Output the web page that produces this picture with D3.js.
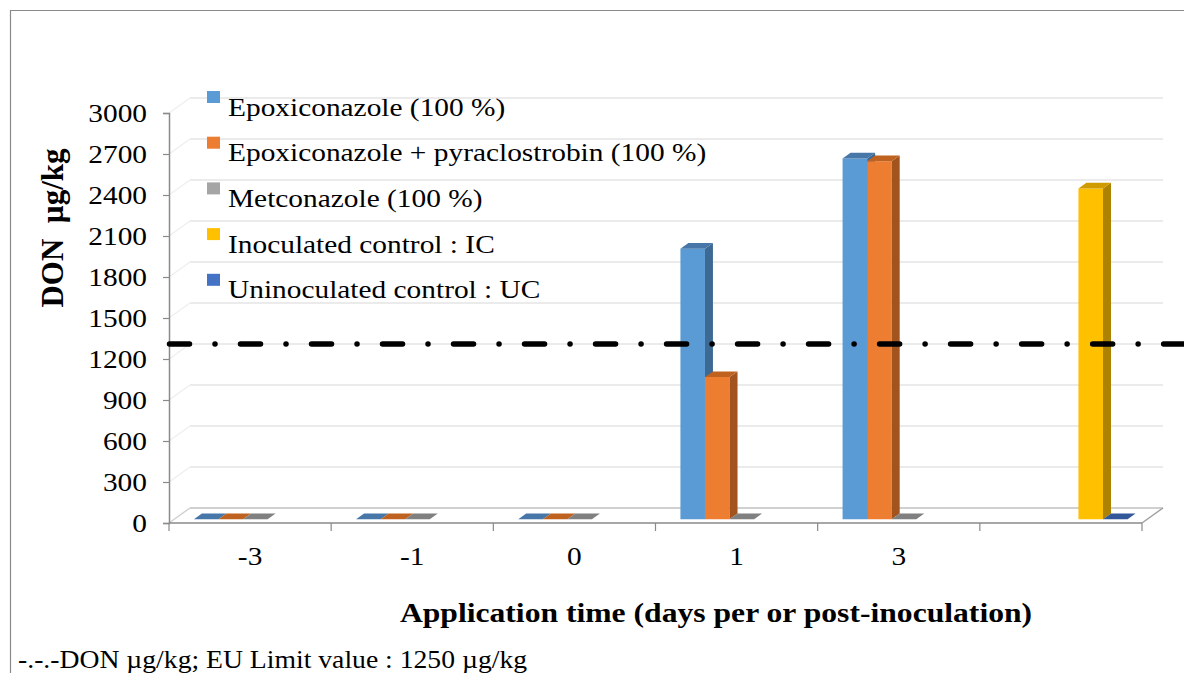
<!DOCTYPE html>
<html><head><meta charset="utf-8">
<script src="https://cdn.jsdelivr.net/npm/d3@7"></script>
<style>
body{margin:0;background:#fff}
text{font-family:"Liberation Serif","Times New Roman",serif;fill:#000}
</style>
</head><body>
<svg id="c" width="1184" height="673"></svg>
<script>
// ---------- data ----------
const categories = ["-3", "-1", "0", "1", "3", ""];
const seriesNames = ["Epoxiconazole (100 %)", "Epoxiconazole + pyraclostrobin (100 %)", "Metconazole (100 %)", "Inoculated control : IC", "Uninoculated control : UC"];
const epoxiconazole = [0, 0, 0, 1980, 2640, null];
const epoxiPyraclostrobin = [0, 0, 0, 1040, 2620, null];
const metconazole = [0, 0, 0, 0, 0, null];
const inoculatedControl = [null, null, null, null, null, 2420];
const uninoculatedControl = [null, null, null, null, null, 0];
const yTicks = [0, 300, 600, 900, 1200, 1500, 1800, 2100, 2400, 2700, 3000];
const limitLevel = 1200; // level at which the EU-limit dash-dot line is drawn in the picture
const yTitle = "DON\u00a0\u00a0µg/kg";
const xTitle = "Application time (days per or post-inoculation)";
const footnote = "-.-.-DON µg/kg; EU Limit value : 1250 µg/kg";

const seriesValues = [epoxiconazole, epoxiPyraclostrobin, metconazole, inoculatedControl, uninoculatedControl];
const faceColors = [
  {front: "#5b9bd5", side: "#3d6a94", top: "#4677a8"},
  {front: "#ed7d31", side: "#a3531d", top: "#bf611f"},
  {front: "#a5a5a5", side: "#6f6f6f", top: "#808080"},
  {front: "#ffc000", side: "#ad8200", top: "#cf9b00"},
  {front: "#4472c4", side: "#2c4f8c", top: "#33589a"}
];

// ---------- layout ----------
const svg = d3.select("#c");
const SX = 1.13;          // horizontal stretch of text in the picture
const FS = 26;
const X0 = 169, X1 = 1142, YB = 523, YT = 113;
const DX = 21, DY = -15;  // depth of the 3D box
const ZF = 0.25, ZB = 0.63; // bar front/back depth fraction

const x = d3.scaleBand().domain(categories).range([X0, X1]);
const xs = d3.scaleBand().domain(d3.range(seriesNames.length)).range([0, x.bandwidth()]).paddingOuter(0.8);
const y = d3.scaleLinear().domain([0, 3000]).range([YB, YT]);
const P = (px, py, z) => [px + z * DX, py + z * DY];

// frame
svg.append("path").attr("d", "M10.5,673 V10.5 H1184").attr("fill", "none").attr("stroke", "#8a8a8a").attr("stroke-width", 1.2);

// back wall gridlines & side wall diagonals
const grid = svg.append("g");
yTicks.forEach(v => {
  const yy = y(v);
  grid.append("line").attr("x1", X0 + DX).attr("x2", X1 + DX).attr("y1", yy + DY).attr("y2", yy + DY)
    .attr("stroke", v === 0 ? "#d0d0d0" : "#ebebeb").attr("stroke-width", 2);
  grid.append("line").attr("x1", X0).attr("y1", yy).attr("x2", X0 + DX).attr("y2", yy + DY)
    .attr("stroke", v === 0 ? "#d0d0d0" : "#efefef").attr("stroke-width", 1.5);
});
// floor right edge
grid.append("line").attr("x1", X1).attr("y1", YB).attr("x2", X1 + DX).attr("y2", YB + DY).attr("stroke", "#a0a0a0").attr("stroke-width", 1.5);

// y axis
const yAxis = svg.append("g").attr("transform", `translate(${X0},0)`)
  .call(d3.axisLeft(y).tickValues(yTicks).tickSize(6).tickFormat(d3.format("d")));
yAxis.select(".domain").attr("stroke", "#8a8a8a").attr("stroke-width", 1.5);
yAxis.selectAll(".tick line").attr("stroke", "#8a8a8a").attr("stroke-width", 1.2);
yAxis.selectAll(".tick text").each(function(d) {
  d3.select(this).attr("x", null).attr("dy", null)
    .attr("transform", `translate(-22,8.5) scale(${SX},1)`)
    .attr("font-size", FS).attr("font-family", "Liberation Serif").attr("fill", "#000");
});

// x axis (front floor edge)
svg.append("line").attr("x1", X0).attr("x2", X1).attr("y1", YB).attr("y2", YB).attr("stroke", "#8a8a8a").attr("stroke-width", 1.5);
const bounds = categories.map(c => x(c)).concat([x(categories[categories.length - 1]) + x.bandwidth()]);
svg.append("g").selectAll("line").data(bounds).join("line")
  .attr("x1", d => d).attr("x2", d => d).attr("y1", YB).attr("y2", YB + 8)
  .attr("stroke", "#8a8a8a").attr("stroke-width", 1.2);
const xAxis = svg.append("g").attr("transform", `translate(0,${YB})`)
  .call(d3.axisBottom(x).tickSize(0));
xAxis.select(".domain").remove();
xAxis.selectAll(".tick text").attr("y", null).attr("dy", null)
  .attr("transform", `translate(0,42) scale(${SX},1)`)
  .attr("font-size", FS).attr("font-family", "Liberation Serif").attr("fill", "#000");

// bars
const bars = [];
categories.forEach((c, i) => {
  seriesValues.forEach((arr, s) => {
    const v = arr[i];
    if (v === null || v === undefined) return;
    bars.push({c, s, v, x0: x(c) + xs(s), x1: x(c) + xs(s) + xs.bandwidth()});
  });
});
bars.sort((a, b) => a.x0 - b.x0);
const gBars = svg.append("g");
const poly = pts => "M" + pts.map(p => p.join(",")).join("L") + "Z";
bars.forEach(b => {
  const col = faceColors[b.s];
  const yb = y(0), yt = y(b.v);
  const fBL = P(b.x0, yb, ZF), fBR = P(b.x1, yb, ZF), fTL = P(b.x0, yt, ZF), fTR = P(b.x1, yt, ZF);
  const bBR = P(b.x1, yb, ZB), bTL = P(b.x0, yt, ZB), bTR = P(b.x1, yt, ZB);
  if (b.v > 0) {
    gBars.append("path").attr("d", poly([fBL, fBR, fTR, fTL])).attr("fill", col.front);
    gBars.append("path").attr("d", poly([fBR, bBR, bTR, fTR])).attr("fill", col.side);
  }
  gBars.append("path").attr("d", poly([fTL, fTR, bTR, bTL])).attr("fill", col.top);
});

// EU limit dash-dot line (on back wall level)
const yl = y(limitLevel) + DY;
svg.append("line").attr("x1", X0 + 0.5).attr("x2", 1184).attr("y1", yl).attr("y2", yl)
  .attr("stroke", "#000").attr("stroke-width", 5.5).attr("stroke-linecap", "round")
  .attr("stroke-dasharray", "20,25.5,0.01,25.5");

// legend
const lg = svg.append("g");
const legY0 = 107, legStep = 45.7;
seriesNames.forEach((n, i) => {
  const cy = legY0 + i * legStep;
  lg.append("rect").attr("x", 207).attr("y", cy - 16).attr("width", 13).attr("height", 12).attr("fill", faceColors[i].front);
  lg.append("text").attr("transform", `translate(228,${cy + 8.5}) scale(${SX},1)`)
    .attr("font-size", FS).text(n);
});

// titles
svg.append("text").attr("transform", `translate(63,228) rotate(-90)`)
  .attr("text-anchor", "middle").attr("font-weight", "bold").attr("font-size", 31).text(yTitle);
svg.append("text").attr("transform", `translate(716,622) scale(${SX},1)`)
  .attr("text-anchor", "middle").attr("font-weight", "bold").attr("font-size", 28).text(xTitle);
svg.append("text").attr("transform", `translate(18,668) scale(${SX},1)`)
  .attr("font-size", 24.5).text(footnote);
</script>
</body></html>
